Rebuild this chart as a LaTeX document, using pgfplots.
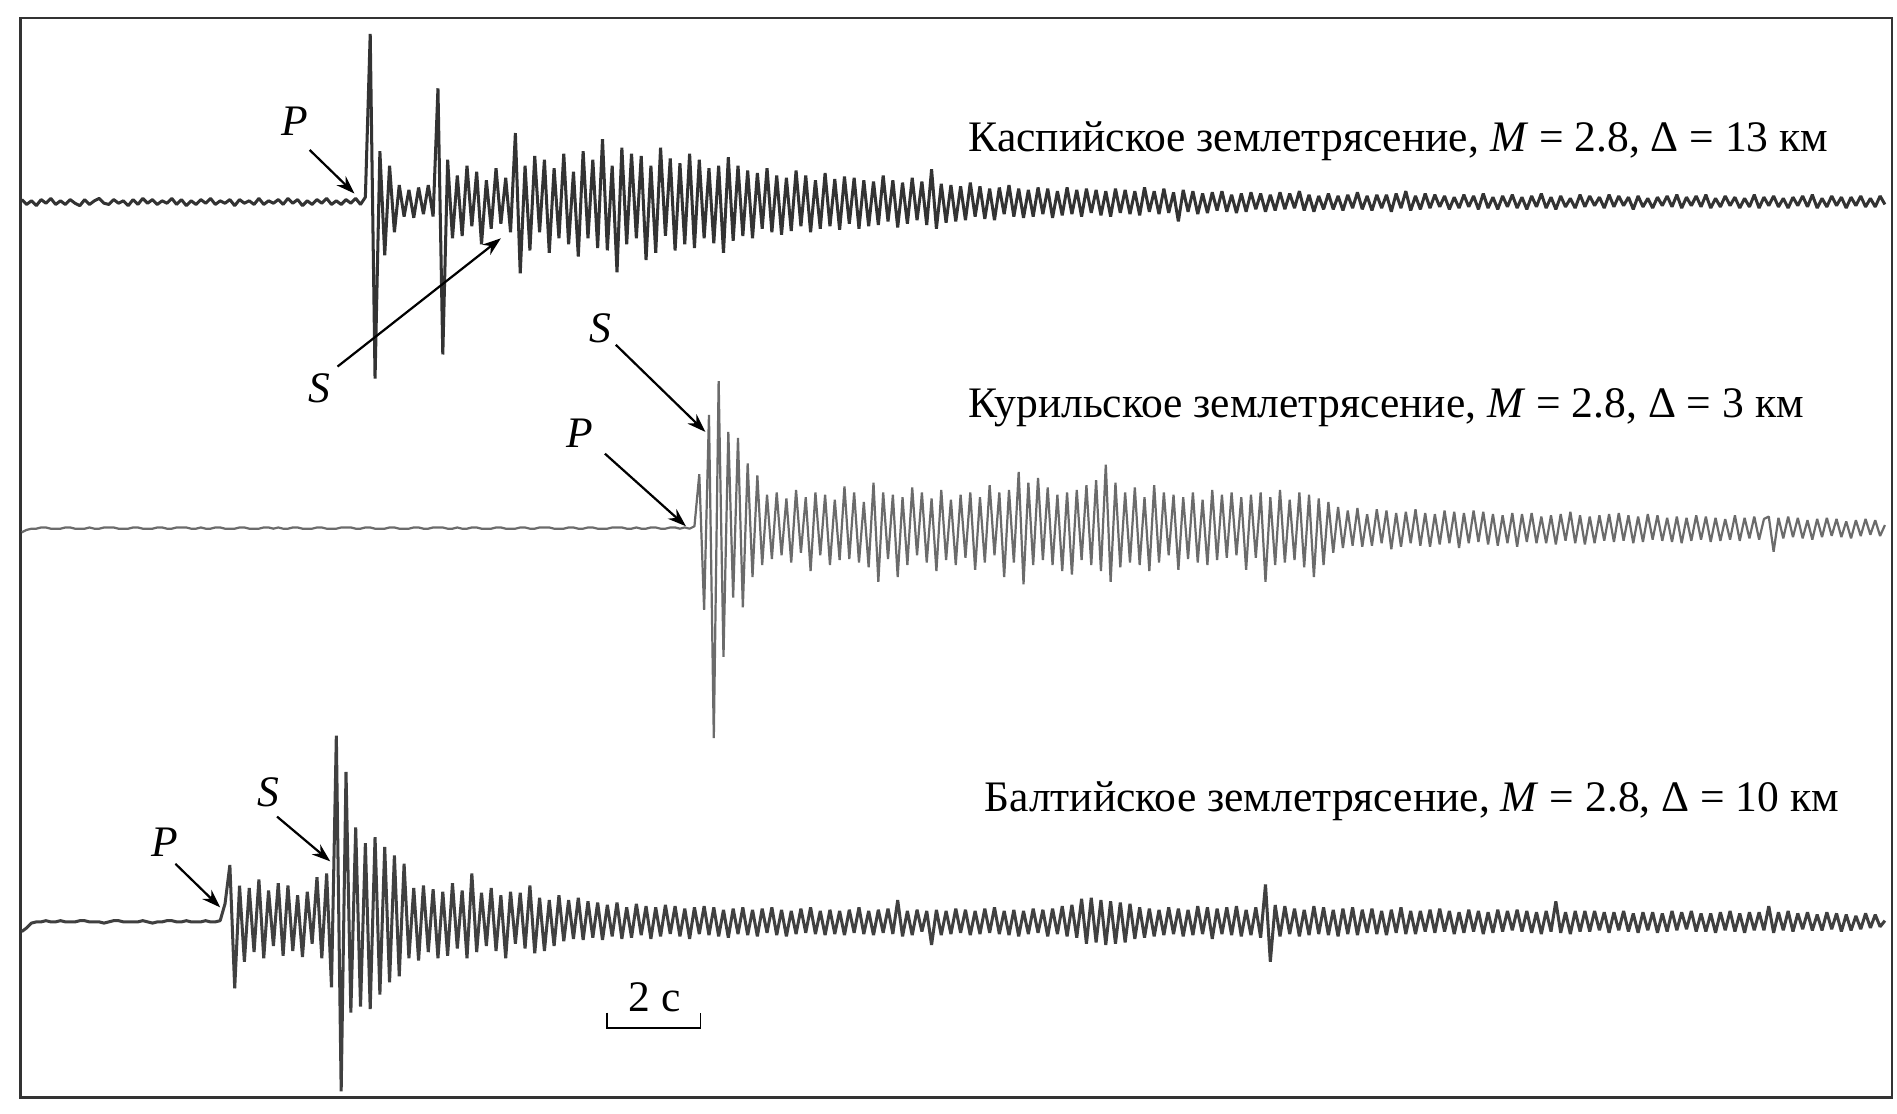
\documentclass[border=0pt]{standalone}
\usepackage{pgfplots}
\pgfplotsset{compat=1.18}
\usepackage{fontspec}
\setmainfont{Liberation Serif}
\usetikzlibrary{arrows.meta}
\definecolor{traceA}{HTML}{333333}
\definecolor{traceB}{HTML}{6B6B6B}
\definecolor{traceC}{HTML}{404040}
\definecolor{frame}{HTML}{333333}
\newcommand\lab{\fontsize{10.8}{13}\selectfont}
\begin{document}
\begin{tikzpicture}
\begin{axis}[x=0.3pt,y=0.3pt,xmin=0,xmax=1568,ymin=0,ymax=920,hide axis,clip=false]
\path (0,0) rectangle (1568,920);
\draw[line width=0.6pt, frame] (17,13) rectangle (1564,905);
% Caspian trace (baseline 753)
\addplot[traceA, sharp plot, line width=0.75pt, line join=bevel, mark=none] table[header=false,row sep=\\,x expr=18+4*\coordindex,y expr=753+\thisrowno{0}]{
2\\-2\\1\\-3\\2\\-1\\3\\-2\\1\\-2\\2\\-1\\
-3\\2\\-2\\1\\3\\-1\\-2\\2\\-1\\1\\-3\\2\\
-2\\3\\-1\\2\\-2\\1\\-1\\3\\-2\\2\\-3\\1\\
-2\\2\\-1\\3\\-2\\1\\-1\\2\\-3\\2\\-1\\1\\
-2\\3\\-2\\1\\-1\\2\\-2\\3\\-1\\2\\-3\\1\\
-2\\2\\-1\\3\\-2\\1\\-2\\2\\-1\\3\\-2\\4\\
139\\-146\\42\\-44\\30\\-25\\14\\-12\\10\\-13\\12\\-10\\
14\\-12\\94\\-126\\35\\-30\\22\\-28\\30\\-20\\25\\-35\\
18\\-22\\28\\-18\\20\\-25\\57\\-59\\30\\-40\\38\\-25\\
35\\-42\\28\\-30\\40\\-35\\25\\-45\\42\\-30\\35\\-38\\
52\\-40\\30\\-58\\45\\-35\\40\\-30\\38\\-48\\30\\-42\\
45\\-28\\36\\-40\\32\\-35\\40\\-38\\35\\-30\\28\\-34\\
30\\-42\\37\\-32\\30\\-28\\26\\-30\\24\\-22\\28\\-25\\
22\\-27\\20\\-24\\26\\-20\\22\\-25\\18\\-22\\24\\-20\\
19\\-23\\21\\-18\\20\\-22\\18\\-20\\17\\-19\\22\\-16\\
18\\-21\\16\\-18\\20\\-15\\17\\-19\\27\\-22\\15\\-17\\
14\\-16\\13\\-15\\16\\-12\\13\\-14\\11\\-15\\12\\-10\\
14\\-12\\11\\-13\\10\\-12\\12\\-10\\11\\-13\\9\\-11\\
12\\-10\\10\\-12\\11\\-9\\10\\-11\\9\\-12\\11\\-9\\
10\\-10\\9\\-11\\12\\-8\\9\\-10\\11\\-9\\8\\-16\\
10\\-8\\9\\-10\\7\\-9\\8\\-7\\9\\-8\\6\\-9\\
7\\-8\\8\\-6\\7\\-8\\6\\-7\\8\\-6\\7\\-5\\
9\\-7\\6\\-8\\5\\-6\\7\\-6\\5\\-7\\6\\-5\\
8\\-6\\5\\-7\\6\\-5\\6\\-8\\7\\-5\\9\\-7\\
5\\-6\\7\\-5\\6\\-4\\5\\-6\\4\\-5\\6\\-4\\
5\\-6\\7\\-5\\4\\-6\\5\\-4\\6\\-5\\4\\-6\\
5\\-4\\7\\-5\\4\\-6\\5\\-4\\3\\-5\\6\\-4\\
5\\-3\\4\\-5\\6\\-4\\5\\-3\\4\\-6\\5\\-4\\
3\\-5\\4\\-3\\5\\-4\\6\\-5\\4\\-3\\5\\-4\\
6\\-5\\3\\-4\\5\\-3\\4\\-5\\3\\-4\\6\\-5\\
4\\-3\\5\\-4\\3\\-5\\4\\-3\\5\\-4\\6\\-5\\
3\\-4\\5\\-3\\4\\-5\\4\\-3\\5\\-4\\3\\-4\\
5\\-2\\
};
% Kuril trace (baseline 483)
\addplot[traceB, sharp plot, line width=0.55pt, line join=bevel, mark=none] table[header=false,row sep=\\,x expr=18+4*\coordindex,y expr=483+\thisrowno{0}]{
-3\\-1\\0\\0\\1\\1\\0\\0\\0\\1\\1\\0\\
0\\0\\1\\0\\0\\1\\1\\1\\0\\0\\0\\1\\
1\\0\\0\\0\\1\\1\\0\\0\\1\\1\\1\\0\\
0\\1\\0\\0\\1\\1\\0\\0\\0\\1\\1\\0\\
0\\0\\1\\1\\0\\1\\0\\0\\1\\1\\0\\0\\
0\\1\\1\\0\\0\\0\\1\\1\\1\\0\\0\\1\\
1\\0\\0\\0\\1\\1\\0\\0\\0\\1\\1\\0\\
0\\1\\1\\1\\0\\0\\1\\0\\0\\1\\1\\0\\
0\\0\\1\\1\\0\\0\\0\\1\\1\\0\\0\\1\\
1\\1\\0\\0\\0\\1\\1\\0\\0\\1\\1\\0\\
0\\0\\1\\1\\1\\0\\0\\1\\0\\0\\1\\1\\
0\\0\\1\\1\\0\\1\\0\\2\\45\\-67\\94\\-173\\
122\\-106\\80\\-57\\75\\-65\\54\\-40\\44\\-30\\28\\-25\\
30\\-22\\25\\-28\\32\\-20\\26\\-35\\30\\-22\\28\\-30\\
24\\-26\\35\\-25\\30\\-28\\22\\-32\\38\\-44\\30\\-25\\
28\\-40\\26\\-30\\34\\-22\\30\\-28\\25\\-35\\32\\-26\\
24\\-30\\28\\-24\\30\\-34\\26\\-28\\36\\-22\\30\\-40\\
32\\-28\\47\\-46\\38\\-30\\42\\-26\\34\\-30\\28\\-35\\
30\\-38\\32\\-26\\36\\-30\\40\\-35\\53\\-44\\38\\-32\\
30\\-28\\34\\-30\\26\\-35\\36\\-28\\30\\-22\\28\\-34\\
26\\-25\\30\\-28\\24\\-30\\32\\-26\\28\\-24\\30\\-22\\
26\\-34\\28\\-24\\30\\-44\\26\\-30\\32\\-28\\24\\-26\\
30\\-32\\28\\-40\\25\\-30\\22\\-20\\18\\-16\\15\\-14\\
17\\-15\\12\\-14\\16\\-12\\15\\-17\\13\\-15\\14\\-12\\
16\\-14\\13\\-15\\12\\-13\\15\\-12\\14\\-16\\13\\-12\\
15\\-11\\14\\-13\\12\\-14\\11\\-12\\13\\-15\\12\\-11\\
13\\-12\\10\\-12\\11\\-13\\12\\-10\\14\\-12\\11\\-13\\
10\\-12\\11\\-10\\12\\-11\\13\\-10\\11\\-12\\10\\-11\\
12\\-9\\11\\-10\\9\\-11\\10\\-12\\9\\-10\\11\\-9\\
10\\-11\\9\\-10\\8\\-9\\11\\-10\\9\\-8\\10\\-9\\
8\\10\\-19\\9\\-8\\10\\-7\\9\\-8\\7\\-9\\8\\
-7\\9\\-6\\8\\-7\\6\\-8\\7\\-6\\8\\-5\\7\\
-6\\3\\
};
% Baltic trace (baseline 158)
\addplot[traceC, sharp plot, line width=0.75pt, line join=bevel, mark=none] table[header=false,row sep=\\,x expr=18+4*\coordindex,y expr=158+\thisrowno{0}]{
-8\\-5\\-1\\0\\0\\1\\0\\0\\1\\0\\0\\0\\
1\\1\\0\\0\\0\\-1\\0\\1\\1\\0\\0\\0\\
0\\1\\0\\-1\\0\\0\\1\\1\\0\\0\\1\\0\\
0\\0\\1\\0\\0\\1\\15\\47\\-55\\30\\-33\\28\\
-25\\35\\-30\\26\\-20\\32\\-28\\30\\-24\\22\\-29\\25\\
-18\\37\\-30\\40\\-54\\154\\-140\\124\\-75\\78\\-70\\65\\
-72\\70\\-60\\62\\-50\\55\\-45\\48\\-30\\28\\-32\\30\\
-25\\27\\-30\\25\\-28\\32\\-22\\26\\-30\\40\\-25\\24\\
-20\\28\\-24\\22\\-30\\25\\-18\\24\\-22\\30\\-26\\20\\
-24\\18\\-20\\22\\-16\\18\\-14\\20\\-15\\17\\-13\\16\\
-15\\14\\-12\\16\\-14\\12\\-13\\15\\-11\\13\\-14\\12\\
-12\\14\\-10\\13\\-12\\11\\-14\\12\\-10\\13\\-11\\12\\
-12\\10\\-13\\11\\-10\\12\\-11\\10\\-12\\11\\-9\\12\\
-11\\10\\-12\\9\\-10\\11\\-9\\12\\-10\\9\\-11\\10\\
-10\\9\\-11\\10\\-9\\12\\-10\\9\\-11\\10\\-9\\11\\
-10\\18\\-12\\9\\-11\\10\\-8\\9\\-19\\10\\-11\\9\\
-10\\11\\-9\\10\\-11\\9\\-10\\11\\-9\\12\\-10\\9\\
-11\\10\\-12\\9\\-10\\11\\-9\\10\\-12\\11\\-10\\13\\
-12\\14\\-13\\19\\-18\\20\\-17\\18\\-19\\17\\-18\\16\\
-17\\15\\-14\\12\\-13\\11\\-12\\10\\-11\\12\\-10\\11\\
-12\\10\\-11\\13\\-10\\12\\-14\\11\\-10\\12\\-11\\13\\
-12\\10\\-11\\12\\-13\\31\\-33\\14\\-12\\13\\-10\\11\\
-12\\10\\-11\\13\\-10\\12\\-11\\10\\-12\\11\\-10\\12\\
-11\\10\\-9\\11\\-10\\9\\-11\\10\\-9\\12\\-10\\9\\
-10\\9\\-8\\10\\-9\\11\\-8\\9\\-10\\8\\-9\\10\\
-8\\9\\-10\\8\\-9\\10\\-8\\9\\-7\\10\\-8\\9\\
-9\\8\\-10\\9\\-8\\17\\-9\\8\\-10\\9\\-8\\9\\
-8\\9\\-7\\8\\-9\\8\\-7\\9\\-8\\7\\-9\\8\\
-7\\8\\-9\\7\\-8\\9\\-7\\8\\-6\\9\\-8\\7\\
-8\\7\\-9\\8\\-7\\9\\-8\\7\\-9\\8\\-7\\8\\
-7\\13\\-9\\8\\-7\\9\\-8\\7\\-6\\8\\-7\\6\\
-7\\8\\-6\\7\\-8\\6\\-7\\5\\-6\\7\\-5\\6\\
-4\\1\\
};
% labels
\node[anchor=base west, inner sep=0pt] at (800,795) {\lab Каспийское землетрясение, \textit{M} = 2.8, Δ = 13 км};
\node[anchor=base west, inner sep=0pt] at (800,575) {\lab Курильское землетрясение, \textit{M} = 2.8, Δ = 3 км};
\node[anchor=base west, inner sep=0pt] at (813,249) {\lab Балтийское землетрясение, \textit{M} = 2.8, Δ = 10 км};
% arrows
\tikzset{parr/.style={-{Stealth[length=4.6pt,width=3.2pt]}, line width=0.55pt, black}}
\draw[parr] (256,796) -- (293,760);
\draw[parr] (279,617) -- (414,723);
\draw[parr] (509,635) -- (583,563);
\draw[parr] (500,545) -- (567,485);
\draw[parr] (229,245) -- (273,208);
\draw[parr] (145,206) -- (182,170);
\node[inner sep=0pt] at (244,820) {\lab\textit{P}};
\node[inner sep=0pt] at (264,599) {\lab\textit{S}};
\node[inner sep=0pt] at (496,649) {\lab\textit{S}};
\node[inner sep=0pt] at (479,562) {\lab\textit{P}};
\node[inner sep=0pt] at (222,265) {\lab\textit{S}};
\node[inner sep=0pt] at (136,224) {\lab\textit{P}};
% scale bar
\draw[line width=0.45pt, black] (502,83) -- (502,70) -- (579,70) -- (579,83);
\node[anchor=base, inner sep=0pt] at (541,84) {\lab 2 с};
\end{axis}
\end{tikzpicture}
\end{document}
